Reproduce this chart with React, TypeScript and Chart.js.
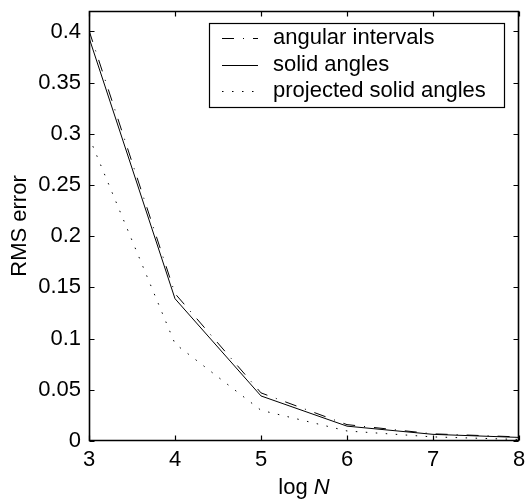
import React, { useEffect, useRef } from "react";
import { Chart, registerables } from "chart.js";

Chart.register(...registerables);

const logN = [3, 4, 5, 6, 7, 8];
const angularIntervals = [0.401, 0.144, 0.047, 0.016, 0.007, 0.004];
const solidAngles = [0.394, 0.139, 0.044, 0.0145, 0.0065, 0.0035];
const projectedSolidAngles = [0.297, 0.095, 0.03, 0.0098, 0.004, 0.0015];
const seriesLabels = ["angular intervals", "solid angles", "projected solid angles"];
const yTickStep = 0.05;
const xTitleParts = ["log ", "N"];
const yTitle = "RMS error";

const FONT = "'Liberation Sans', Arial, Helvetica, sans-serif";
const FS = 22;

const framePlugin = {
  id: "matlabFrame",
  afterDraw(chart: any) {
    const { ctx, chartArea } = chart;
    const { left, right, top, bottom } = chartArea;
    const xs = chart.scales.x;
    const ys = chart.scales.y;
    ctx.save();
    ctx.strokeStyle = "#000";
    ctx.lineWidth = 1.6;
    ctx.setLineDash([]);
    const L = Math.round(left) + 0.5;
    const R = Math.round(right) - 0.5;
    const T = Math.round(top) + 0.5;
    const B = Math.round(bottom) - 0.5;
    ctx.beginPath();
    ctx.rect(L, T, R - L, B - T);
    ctx.stroke();
    const tl = 5;
    ctx.lineWidth = 1.2;
    ctx.beginPath();
    xs.ticks.forEach((t: any) => {
      const px = Math.round(xs.getPixelForValue(t.value)) + 0.5;
      ctx.moveTo(px, B);
      ctx.lineTo(px, B - tl);
      ctx.moveTo(px, T);
      ctx.lineTo(px, T + tl);
    });
    ys.ticks.forEach((t: any) => {
      const py = Math.round(ys.getPixelForValue(t.value)) + 0.5;
      ctx.moveTo(L, py);
      ctx.lineTo(L + tl, py);
      ctx.moveTo(R, py);
      ctx.lineTo(R - tl, py);
    });
    ctx.stroke();

    // x title with italic N
    ctx.fillStyle = "#000";
    ctx.textBaseline = "middle";
    ctx.textAlign = "left";
    const normalFont = `${FS}px ${FONT}`;
    const italicFont = `italic ${FS}px ${FONT}`;
    ctx.font = normalFont;
    const w1 = ctx.measureText(xTitleParts[0]).width;
    ctx.font = italicFont;
    const w2 = ctx.measureText(xTitleParts[1]).width;
    const cx = (left + right) / 2;
    const startX = cx - (w1 + w2) / 2;
    const ty = 488;
    ctx.font = normalFont;
    ctx.fillText(xTitleParts[0], startX, ty);
    ctx.font = italicFont;
    ctx.fillText(xTitleParts[1], startX + w1, ty);

    // legend
    const bx = 209.5, by = 23.5, bw = 295, bh = 84;
    ctx.fillStyle = "#fff";
    ctx.fillRect(bx, by, bw, bh);
    ctx.strokeStyle = "#000";
    ctx.lineWidth = 1.2;
    ctx.strokeRect(bx, by, bw, bh);
    const rowY = [38, 65, 91];
    chart.data.datasets.forEach((ds: any, i: number) => {
      const y = rowY[i] + 0.5;
      ctx.save();
      ctx.strokeStyle = ds.borderColor;
      ctx.lineWidth = ds.borderWidth;
      ctx.setLineDash(ds.borderDash || []);
      ctx.beginPath();
      ctx.moveTo(222, y);
      ctx.lineTo(258, y);
      ctx.stroke();
      ctx.restore();
      ctx.fillStyle = "#000";
      ctx.font = normalFont;
      ctx.textAlign = "left";
      ctx.textBaseline = "middle";
      ctx.fillText(ds.label, 273, rowY[i]);
    });
    ctx.restore();
  },
};

export default function App() {
  const ref = useRef<HTMLCanvasElement | null>(null);
  useEffect(() => {
    document.body.style.margin = "0";
    const canvas = ref.current;
    if (!canvas) return;
    const mk = (vals: number[]) => logN.map((x, i) => ({ x, y: vals[i] }));
    const chart = new Chart(canvas, {
      type: "line",
      data: {
        datasets: [
          {
            label: seriesLabels[0],
            data: mk(angularIntervals),
            borderColor: "#000",
            borderWidth: 1,
            borderDash: [12, 9, 1, 9],
            pointRadius: 0,
            tension: 0,
            fill: false,
          },
          {
            label: seriesLabels[1],
            data: mk(solidAngles),
            borderColor: "#000",
            borderWidth: 1,
            borderDash: [],
            pointRadius: 0,
            tension: 0,
            fill: false,
          },
          {
            label: seriesLabels[2],
            data: mk(projectedSolidAngles),
            borderColor: "#000",
            borderWidth: 1,
            borderDash: [1.5, 8.5],
            pointRadius: 0,
            tension: 0,
            fill: false,
          },
        ],
      },
      options: {
        responsive: false,
        animation: false,
        layout: { padding: { left: 0, right: 6, top: 11, bottom: 0 } },
        plugins: {
          legend: { display: false },
          tooltip: { enabled: false },
        },
        scales: {
          x: {
            type: "linear",
            min: 3,
            max: 8,
            grid: { display: false, drawTicks: false },
            border: { display: false },
            ticks: {
              stepSize: 1,
              padding: 6,
              color: "#000",
              font: { family: FONT, size: FS },
              maxRotation: 0,
            },
            afterFit: (s: any) => {
              s.height = 59;
              s.paddingLeft = 0;
              s.paddingRight = 0;
            },
          },
          y: {
            type: "linear",
            min: 0,
            max: 0.42,
            grid: { display: false, drawTicks: false },
            border: { display: false },
            ticks: {
              stepSize: yTickStep,
              includeBounds: false,
              padding: 8,
              color: "#000",
              font: { family: FONT, size: FS },
              callback: (v: any) => String(Number(Number(v).toFixed(2))),
            },
            title: {
              display: true,
              text: yTitle,
              color: "#000",
              font: { family: FONT, size: FS },
              padding: { top: 7, bottom: 0 },
            },
            afterFit: (s: any) => {
              s.width = 89;
              s.paddingTop = 0;
              s.paddingBottom = 0;
            },
          },
        },
      },
      plugins: [framePlugin],
    });
    return () => chart.destroy();
  }, []);
  return (
    <div style={{ width: 525, height: 500, background: "#fff" }}>
      <canvas ref={ref} width={525} height={500} />
    </div>
  );
}
